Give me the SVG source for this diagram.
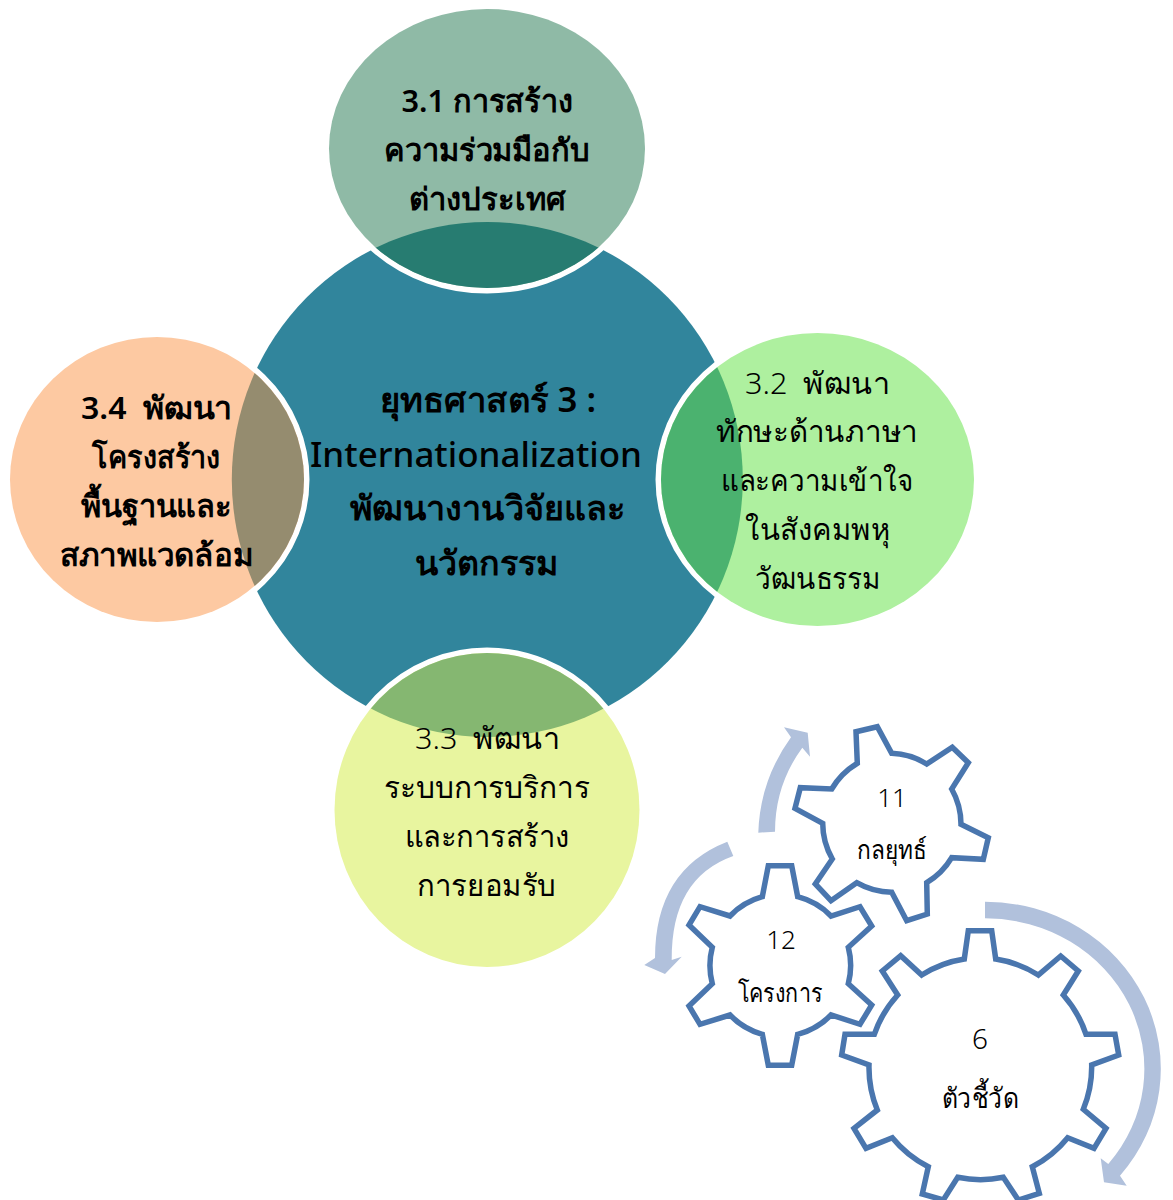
<svg xmlns="http://www.w3.org/2000/svg" width="1173" height="1200" viewBox="0 0 1173 1200">
<style>
text{font-family:"Noto Sans","Open Sans",sans-serif;fill:#000;text-anchor:middle;white-space:pre}
.b{font-size:31px;font-weight:600}
.c{font-size:34px;font-weight:600}
.l{font-size:34.500px;font-weight:500}
.r{font-size:30px;font-weight:300}
.g{font-size:26px;font-weight:300}
.ring{stroke:#fff;stroke-width:11;paint-order:stroke}
.gear{fill:#fff;stroke:#4A76AE;stroke-width:5.500;stroke-linejoin:miter}
.arrow{fill:#B1C1DC}
</style>
<defs>
<clipPath id="c1"><ellipse cx="487" cy="148.500" rx="158" ry="139.500"/></clipPath>
<clipPath id="c2"><ellipse cx="817.500" cy="479.500" rx="156.500" ry="146.500"/></clipPath>
<clipPath id="c3"><ellipse cx="487" cy="810" rx="152.500" ry="157"/></clipPath>
<clipPath id="c4"><ellipse cx="157" cy="479.500" rx="147" ry="142.500"/></clipPath>
</defs>
<g id="center"><ellipse cx="487.300" cy="479.500" rx="255.500" ry="257.500" fill="#31859C"/></g>
<g id="node-3-1"><ellipse class="ring" cx="487" cy="148.500" rx="158" ry="139.500" fill="#8FBAA6"/><ellipse cx="487.300" cy="479.500" rx="255.500" ry="257.500" fill="#277C71" clip-path="url(#c1)"/>
<text class="b" x="487" y="112" textLength="171" lengthAdjust="spacingAndGlyphs">3.1 การสร้าง</text><text class="b" x="487" y="161" textLength="206" lengthAdjust="spacingAndGlyphs">ความร่วมมือกับ</text><text class="b" x="487" y="210">ต่างประเทศ</text></g>
<g id="node-3-2"><ellipse class="ring" cx="817.500" cy="479.500" rx="156.500" ry="146.500" fill="#AEF09F"/><ellipse cx="487.300" cy="479.500" rx="255.500" ry="257.500" fill="#4BB26F" clip-path="url(#c2)"/>
<text class="r" x="817.500" y="394" textLength="145" lengthAdjust="spacingAndGlyphs">3.2  พัฒนา</text><text class="r" x="817" y="442" textLength="202" lengthAdjust="spacingAndGlyphs">ทักษะด้านภาษา</text><text class="r" x="817.500" y="491" textLength="193" lengthAdjust="spacingAndGlyphs">และความเข้าใจ</text><text class="r" x="817.500" y="540" textLength="145" lengthAdjust="spacingAndGlyphs">ในสังคมพหุ</text><text class="r" x="818" y="589" textLength="126" lengthAdjust="spacingAndGlyphs">วัฒนธรรม</text></g>
<g id="node-3-3"><ellipse class="ring" cx="487" cy="810" rx="152.500" ry="157" fill="#E8F59F"/><ellipse cx="487.300" cy="479.500" rx="255.500" ry="257.500" fill="#85B771" clip-path="url(#c3)"/>
<text class="r" x="487.500" y="749" textLength="145" lengthAdjust="spacingAndGlyphs">3.3  พัฒนา</text><text class="r" x="487" y="798" textLength="206" lengthAdjust="spacingAndGlyphs">ระบบการบริการ</text><text class="r" x="487.500" y="847" textLength="165" lengthAdjust="spacingAndGlyphs">และการสร้าง</text><text class="r" x="486.500" y="896" textLength="139" lengthAdjust="spacingAndGlyphs">การยอมรับ</text></g>
<g id="node-3-4"><ellipse class="ring" cx="157" cy="479.500" rx="147" ry="142.500" fill="#FDC9A2"/><ellipse cx="487.300" cy="479.500" rx="255.500" ry="257.500" fill="#958C6F" clip-path="url(#c4)"/>
<text class="b" x="156.500" y="419" textLength="151" lengthAdjust="spacingAndGlyphs">3.4  พัฒนา</text><text class="b" x="156" y="468" textLength="128" lengthAdjust="spacingAndGlyphs">โครงสร้าง</text><text class="b" x="156.500" y="517" textLength="151" lengthAdjust="spacingAndGlyphs">พื้นฐานและ</text><text class="b" x="156.500" y="566" textLength="193" lengthAdjust="spacingAndGlyphs">สภาพแวดล้อม</text></g>
<g id="center-label"><text class="c" x="488" y="412" textLength="216" lengthAdjust="spacingAndGlyphs">ยุทธศาสตร์ 3 :</text><text class="l" x="476" y="467" textLength="332" lengthAdjust="spacingAndGlyphs">Internationalization</text><text class="c" x="487.500" y="520" textLength="275" lengthAdjust="spacingAndGlyphs">พัฒนางานวิจัยและ</text><text class="c" x="486.500" y="575" textLength="143" lengthAdjust="spacingAndGlyphs">นวัตกรรม</text></g>
<g id="connectors">
<path class="arrow" d="M985,901.700A175.700,167 0 0 1 1120,1175.700L1126.700,1185.700L1104,1182.300L1100.700,1158.300L1108.300,1164A159.300,150.400 0 0 0 985,918.300Z"/>
<path class="arrow" d="M758.300,832.700Q760,780 791,737.300L784,727.300L807.700,732.700L810,756.700L802.300,747.700Q775,785 775,831.700Z"/>
<path class="arrow" d="M727.300,841.700Q655,870 655,958L644.300,965L665,974L681.700,956.700L671.700,960Q671,878 733.300,856Z"/>
</g>
<g id="gear-11"><path class="gear" d="M856,731.700L877.300,726.700L891.700,753.300A72,72 0 0 1 926.700,764L952.300,747.300L968.300,762.700L951.700,789A72,72 0 0 1 961,824.300L988.300,837.700L983.300,859.300L951.700,857.700A72,72 0 0 1 926.700,882.700L927.300,914L906.700,920.700L891.700,892.300A72,72 0 0 1 856.700,882.700L831,900.700L815.300,884L832.300,859A72,72 0 0 1 822.700,823.300L795,808.300L800.300,787.700L831.700,789A72,72 0 0 1 857.300,763.300Z"/>
<text class="g" x="892" y="807">11</text><text class="g" x="892" y="859" textLength="70" lengthAdjust="spacingAndGlyphs">กลยุทธ์</text></g>
<g id="gear-12"><path class="gear" d="M768.300,865.700L791.700,865.700L797.700,896.700A72,72 0 0 1 831,916L860,906.700L871.700,926L848.300,947.300A72,72 0 0 1 848.300,983.700L871.700,1005L860,1024.300L831,1015A72,72 0 0 1 797.700,1034.300L791.700,1065.300L768.300,1065.300L762.300,1034.300A72,72 0 0 1 730,1015L700,1024.300L689,1006L712.300,983.700A72,72 0 0 1 712.300,947.300L689,925L700,906.700L730,916A72,72 0 0 1 762.300,896.700Z"/>
<text class="g" x="781" y="949">12</text><text class="g" x="780" y="1002" textLength="85" lengthAdjust="spacingAndGlyphs">โครงการ</text></g>
<g id="gear-6"><path class="gear" d="M968.300,930.700L991.700,930.700L995.700,959A112,112 0 0 1 1038.300,975L1060.700,956L1078.300,971L1063.300,995A112,112 0 0 1 1086,1034.300L1115,1034.300L1118.700,1055L1091.700,1065A112,112 0 0 1 1083.300,1109.300L1106,1128.300L1094,1148.300L1067.700,1137.700A112,112 0 0 1 1032.300,1166.700L1039.300,1193.300L1018.300,1200L1003.300,1177.300A112,112 0 0 1 957.700,1177.300L943.300,1200L922.300,1194L928.300,1166.700A112,112 0 0 1 892.300,1137.700L866,1148.300L854,1128.300L877.300,1110A112,112 0 0 1 869,1065L841.700,1055L845,1034.300L874.300,1034.300A112,112 0 0 1 897.700,995L882.300,971L900.700,955.700L921.700,975A112,112 0 0 1 964.300,959Z"/>
<text class="g" x="980" y="1049" style="font-size:28px">6</text><text class="g" x="980" y="1108" style="font-size:28px" textLength="77" lengthAdjust="spacingAndGlyphs">ตัวชี้วัด</text></g>
</svg>
